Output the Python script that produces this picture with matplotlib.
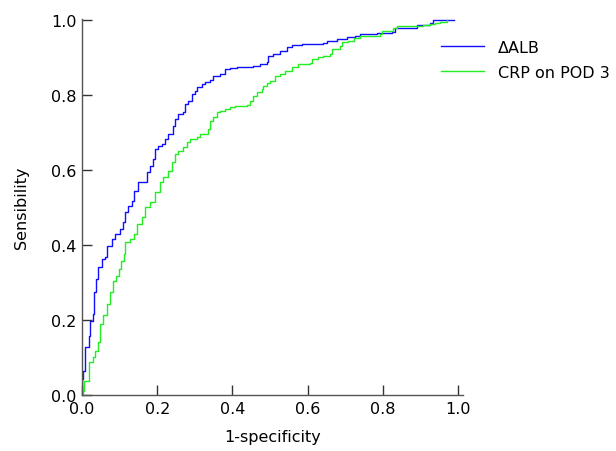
import matplotlib
matplotlib.use('Agg')
import matplotlib.pyplot as plt

# ROC curve for delta ALB
alb_fpr = [0.000, 0.000, 0.002, 0.008, 0.019, 0.021, 0.030, 0.033, 0.036, 0.043,
           0.052, 0.061, 0.066, 0.079, 0.088, 0.101, 0.110, 0.114, 0.123, 0.132,
           0.139, 0.150, 0.163, 0.172, 0.181, 0.190, 0.194, 0.203, 0.212, 0.221,
           0.230, 0.243, 0.247, 0.256, 0.269, 0.274, 0.283, 0.292, 0.301, 0.305,
           0.318, 0.327, 0.340, 0.349, 0.367, 0.380, 0.394, 0.411, 0.447, 0.456,
           0.473, 0.491, 0.495, 0.509, 0.527, 0.544, 0.558, 0.584, 0.642, 0.651,
           0.677, 0.704, 0.726, 0.739, 0.784, 0.824, 0.832, 0.890, 0.912, 0.926,
           0.933, 0.988]
alb_tpr = [0.000, 0.043, 0.065, 0.128, 0.158, 0.198, 0.216, 0.275, 0.309, 0.341,
           0.363, 0.368, 0.398, 0.416, 0.429, 0.443, 0.461, 0.488, 0.505, 0.518,
           0.545, 0.567, 0.567, 0.594, 0.611, 0.629, 0.656, 0.665, 0.669, 0.683,
           0.696, 0.718, 0.736, 0.749, 0.754, 0.776, 0.785, 0.803, 0.811, 0.821,
           0.829, 0.834, 0.841, 0.851, 0.856, 0.869, 0.871, 0.874, 0.874, 0.878,
           0.883, 0.887, 0.905, 0.909, 0.917, 0.927, 0.934, 0.936, 0.938, 0.945,
           0.949, 0.954, 0.958, 0.963, 0.966, 0.969, 0.980, 0.986, 0.988, 0.993,
           1.000, 1.000]

# ROC curve for CRP on POD 3
crp_fpr = [0.000, 0.003, 0.005, 0.013, 0.019, 0.030, 0.035, 0.043, 0.048, 0.055,
           0.066, 0.074, 0.083, 0.091, 0.098, 0.105, 0.112, 0.114, 0.128, 0.138,
           0.145, 0.159, 0.168, 0.181, 0.194, 0.207, 0.216, 0.230, 0.239, 0.247,
           0.256, 0.269, 0.278, 0.287, 0.305, 0.314, 0.336, 0.340, 0.349, 0.358,
           0.367, 0.380, 0.394, 0.407, 0.438, 0.447, 0.456, 0.465, 0.478, 0.482,
           0.491, 0.500, 0.513, 0.527, 0.540, 0.558, 0.575, 0.606, 0.611, 0.628,
           0.642, 0.660, 0.664, 0.686, 0.691, 0.708, 0.722, 0.739, 0.757, 0.793,
           0.797, 0.828, 0.837, 0.899, 0.908, 0.926, 0.939, 0.952, 0.970]
crp_tpr = [0.000, 0.011, 0.038, 0.038, 0.087, 0.101, 0.118, 0.141, 0.189, 0.213,
           0.243, 0.274, 0.304, 0.318, 0.336, 0.357, 0.376, 0.407, 0.416, 0.429,
           0.456, 0.474, 0.501, 0.514, 0.541, 0.567, 0.581, 0.598, 0.621, 0.643,
           0.651, 0.661, 0.674, 0.683, 0.687, 0.696, 0.709, 0.731, 0.741, 0.754,
           0.758, 0.763, 0.767, 0.771, 0.773, 0.785, 0.798, 0.807, 0.816, 0.825,
           0.832, 0.838, 0.851, 0.856, 0.865, 0.874, 0.883, 0.885, 0.896, 0.901,
           0.905, 0.909, 0.923, 0.931, 0.941, 0.945, 0.951, 0.957, 0.957, 0.963,
           0.971, 0.980, 0.983, 0.984, 0.987, 0.989, 0.993, 0.995, 1.000]

ticks = [0.0, 0.2, 0.4, 0.6, 0.8, 1.0]
tick_labels = ['0.0', '0.2', '0.4', '0.6', '0.8', '1.0']

plt.rcParams['font.family'] = ['DejaVu Sans']
plt.rcParams['font.size'] = 11.5

fig = plt.figure(figsize=(6.16, 4.52), dpi=100)
ax = fig.add_axes([0.1331, 0.1239, 0.6185, 0.8319])

ax.plot(alb_fpr, alb_tpr, drawstyle='steps-post', color='#1010ff', lw=1.0, label='\u0394ALB')
ax.plot(crp_fpr, crp_tpr, drawstyle='steps-post', color='#22ee22', lw=1.0, label='CRP on POD 3')

ax.set_xlim(0, 1.013)
ax.set_ylim(0, 1.003)
ax.set_xticks(ticks)
ax.set_xticklabels(tick_labels)
ax.set_yticks(ticks)
ax.set_yticklabels(tick_labels)

for s in ['top', 'right']:
    ax.spines[s].set_visible(False)
for s in ['left', 'bottom']:
    ax.spines[s].set_color('#555555')
    ax.spines[s].set_linewidth(1.0)
ax.tick_params(direction='in', length=7, width=1, color='#333333', pad=4)

ax.set_xlabel('1-specificity', labelpad=10)
ax.set_ylabel('Sensibility', labelpad=16)

ax.legend(loc='upper left', bbox_to_anchor=(441 / 616, 1 - 41 / 452),
          bbox_transform=fig.transFigure, frameon=False, fontsize=11.5,
          handlelength=2.7, handletextpad=0.875, labelspacing=0.62,
          borderpad=0.0, borderaxespad=0.0)

fig.savefig('out.png', dpi=100)
